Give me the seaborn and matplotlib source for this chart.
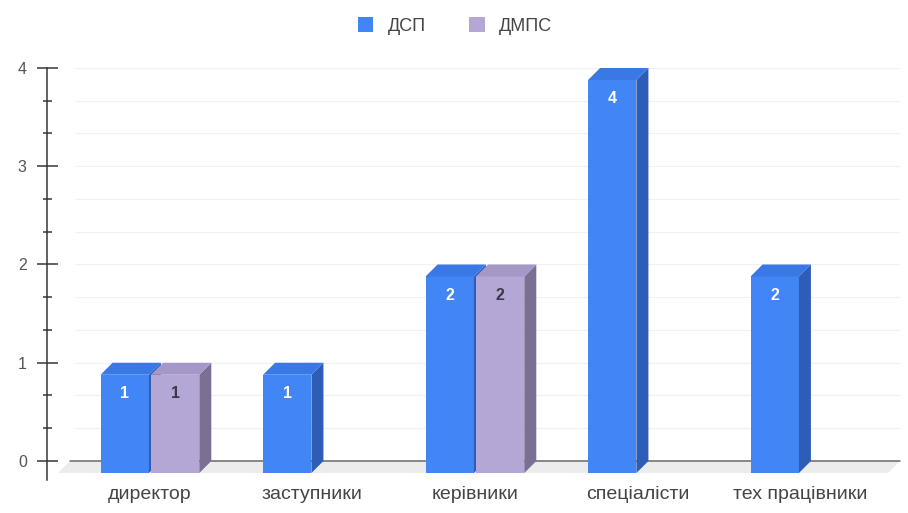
import matplotlib
matplotlib.use("Agg")
import matplotlib.pyplot as plt
import numpy as np
import pandas as pd
import seaborn as sns
from matplotlib.patches import Polygon, Patch
from matplotlib.transforms import ScaledTranslation
from matplotlib.ticker import MultipleLocator

# --- data ---------------------------------------------------------------
categories = ["директор", "заступники", "керівники", "спеціалісти", "тех працівники"]
series = ["ДСП", "ДМПС"]
dsp_values = [1, 1, 2, 4, 2]
dmps_values = [1, None, 2, None, None]

# --- colours (front / side / top faces) ----------------------------------
front_col = {"ДСП": "#4285f4", "ДМПС": "#b4a7d6"}
side_col = {"ДСП": "#2d5db6", "ДМПС": "#7b7094"}
top_col = {"ДСП": "#3a78e6", "ДМПС": "#a597c8"}
label_col = {"ДСП": "white", "ДМПС": "#3a3848"}

rows = []
for cat, a, b in zip(categories, dsp_values, dmps_values):
    if a is not None:
        rows.append({"cat": cat, "series": "ДСП", "val": a})
    if b is not None:
        rows.append({"cat": cat, "series": "ДМПС", "val": b})
df = pd.DataFrame(rows)

sns.set_theme(style="white")
plt.rcParams["font.family"] = ["Liberation Sans", "DejaVu Sans"]

W, H, DPI = 908, 513, 100
PT = 72 / DPI  # points per pixel
fig = plt.figure(figsize=(W / DPI, H / DPI), dpi=DPI)
# axes box in pixel terms: left 75, right 900, top 68, bottom 480
ax = fig.add_axes([75 / W, (H - 480) / H, (900 - 75) / W, (480 - 68) / H])

sns.barplot(data=df, x="cat", y="val", hue="series", order=categories,
            hue_order=series, palette=front_col, width=0.62, gap=0.04,
            saturation=1, errorbar=None, linewidth=0, legend=False, ax=ax)

ax.set_xlim(-0.535, 4.542)
ax.set_ylim(-0.1934, 4)

DEPTH = 12  # px depth of the 3D extrusion
front_off = ScaledTranslation(-DEPTH / DPI, -DEPTH / DPI, fig.dpi_scale_trans)
inv = ax.transData.inverted()

# floor and baseline
x_lo, x_hi = ax.get_xlim()
bx0 = ax.transData.transform((x_lo, 0))
bx0[0] -= 5
bx1 = ax.transData.transform((x_hi, 0))
floor_pts = np.array([bx0, bx1, bx1 - DEPTH, bx0 - DEPTH])
ax.add_patch(Polygon(inv.transform(floor_pts), closed=True, fc="#ececec",
                     ec="none", zorder=1, clip_on=False))
ax.plot(inv.transform(np.array([bx0, bx1]))[:, 0], [0, 0], color="#666666",
        lw=1.5 * PT, zorder=1.5, clip_on=False)

# extrude each bar into a box
for level, container in zip(series, ax.containers):
    z = 2 if level == "ДСП" else 3
    for bar in container:
        h = bar.get_height()
        if not np.isfinite(h) or h == 0:
            bar.set_visible(False)
            continue
        x0, w = bar.get_x(), bar.get_width()
        bar.set_transform(ax.transData + front_off)
        bar.set_zorder(z)
        p0 = ax.transData.transform((x0, 0)) - DEPTH
        p1 = ax.transData.transform((x0 + w, h)) - DEPTH
        side = np.array([[p1[0], p0[1]], [p1[0] + DEPTH, p0[1] + DEPTH],
                         [p1[0] + DEPTH, p1[1] + DEPTH], [p1[0], p1[1]]])
        top = np.array([[p0[0], p1[1]], [p1[0], p1[1]],
                        [p1[0] + DEPTH, p1[1] + DEPTH], [p0[0] + DEPTH, p1[1] + DEPTH]])
        ax.add_patch(Polygon(inv.transform(side), closed=True, fc=side_col[level],
                             ec="none", zorder=z))
        ax.add_patch(Polygon(inv.transform(top), closed=True, fc=top_col[level],
                             ec="none", zorder=z))
        lab_off = ScaledTranslation(-DEPTH / DPI, -31 / DPI, fig.dpi_scale_trans)
        ax.text(x0 + w / 2, h, f"{h:g}", transform=ax.transData + lab_off,
                ha="center", va="center", color=label_col[level],
                fontsize=11.5, fontweight="bold", zorder=z + 0.5)

# grid and axes styling
ax.yaxis.set_major_locator(MultipleLocator(1))
ax.yaxis.set_minor_locator(MultipleLocator(1 / 3))
ax.grid(which="both", axis="y", color="#f1f1f1", lw=1.2 * PT, zorder=0)
ax.set_axisbelow(True)
for s in ["top", "right", "bottom"]:
    ax.spines[s].set_visible(False)
ax.spines["left"].set_position(("outward", 28 * PT))
ax.spines["left"].set_color("#333333")
ax.spines["left"].set_linewidth(1.5 * PT)
ax.tick_params(axis="y", which="major", direction="inout", length=21 * PT,
               width=1.5 * PT, color="#333333", labelsize=11.5,
               labelcolor="#555555", pad=7, left=True)
ax.tick_params(axis="y", which="minor", direction="inout", length=9 * PT,
               width=1.5 * PT, color="#333333", left=True)
ax.tick_params(axis="x", length=0, labelsize=14, labelcolor="#444444", pad=4.5)
ax.set_xlabel("")
ax.set_ylabel("")
ax.set_xticks(range(len(categories)))
ax.set_xticklabels(categories)
for lbl in ax.get_xticklabels():
    lbl.set_transform(lbl.get_transform() +
                      ScaledTranslation(-DEPTH / DPI, 0, fig.dpi_scale_trans))

handles = [Patch(facecolor=front_col[s], edgecolor="none", label=s) for s in series]
fig.legend(handles=handles, loc="center", bbox_to_anchor=(455 / W, 1 - 26 / H),
           ncol=2, frameon=False, fontsize=13, handlelength=0.85, handleheight=0.85,
           handletextpad=0.8, columnspacing=2.4, labelcolor="#444444")

fig.savefig("out.png", dpi=DPI)
